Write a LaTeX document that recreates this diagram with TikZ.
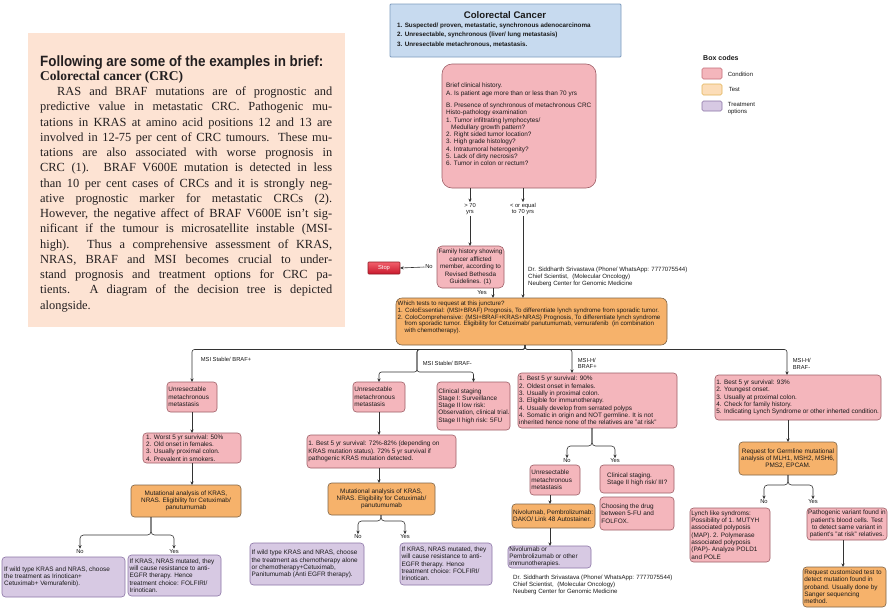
\documentclass[tikz,border=0pt]{standalone}
\usepackage{fontspec}
\setmainfont{Liberation Sans}
\newfontfamily\bodyserif{Liberation Serif}
\usetikzlibrary{arrows.meta,calc}
\definecolor{condF}{HTML}{F4B6BC}
\definecolor{condD}{HTML}{9E5F67}
\definecolor{testF}{HTML}{F6B26B}
\definecolor{testD}{HTML}{7F6548}
\definecolor{treatF}{HTML}{D7C9E3}
\definecolor{treatD}{HTML}{8C75A6}
\definecolor{legTF}{HTML}{FCDDB8}
\definecolor{legTD}{HTML}{E2B458}
\definecolor{legCD}{HTML}{C46D78}
\definecolor{titleF}{HTML}{C7DAEF}
\definecolor{titleD}{HTML}{7E9CBE}
\definecolor{panelF}{HTML}{FDE3D3}
\definecolor{lnC}{HTML}{333333}
\definecolor{txtC}{HTML}{1A1A1A}
\definecolor{bodyC}{HTML}{231F20}
\definecolor{stopT}{HTML}{F2606C}
\definecolor{stopB}{HTML}{C8182C}
\definecolor{stopD}{HTML}{8E1A24}
\newcommand\pbox[6]{%
  \pgfmathsetmacro\mybw{#5-#3}%
  \pgfmathsetmacro\mybh{#6-#4}%
  \pgfmathsetmacro\mycx{(#3+#5)/2}%
  \pgfmathsetmacro\mycy{(#4+#6)/2}%
  \node[#1, minimum width=\mybw pt, minimum height=\mybh pt] (#2) at (\mycx,\mycy) {};%
}
\newcommand\bline[5]{\node[bodyline] (#1) at (#2,#3) {\makebox[#4][s]{#5}};}
\tikzset{
  box/.style={inner sep=0pt, outer sep=0pt, line width=0.6pt, rounded corners=3.5pt},
  condbox/.style={box, draw=condD, fill=condF},
  testbox/.style={box, draw=testD, fill=testF},
  treatbox/.style={box, draw=treatD, fill=treatF},
  titlebox/.style={box, rounded corners=1pt, line width=0.8pt, draw=titleD, fill=titleF},
  panelbox/.style={inner sep=0pt, outer sep=0pt, fill=panelF, draw=none},
  stopbox/.style={box, rounded corners=0.8pt, draw=stopD, top color=stopT, bottom color=stopB},
  legtest/.style={box, rounded corners=1.5pt, draw=legTD, fill=legTF},
  legcond/.style={box, rounded corners=1.5pt, draw=legCD, fill=condF},
  legtreat/.style={box, rounded corners=1.5pt, draw=treatD, fill=treatF},
  bt/.style={inner sep=0pt, align=left, text=txtC, font={\fontsize{6.4}{7.3}\selectfont}},
  btc/.style={bt, align=center},
  lbl/.style={inner sep=0.6pt, text=txtC, align=center, font={\fontsize{5.8}{6.7}\selectfont}},
  arr/.style={-{Stealth[length=3.6pt,width=3.2pt]}, line width=0.6pt, draw=lnC, rounded corners=3.5pt},
  bodyline/.style={anchor=base west, inner sep=0pt, text=bodyC, font={\bodyserif\fontsize{12.4}{14}\selectfont}},
}
\begin{document}
\begin{tikzpicture}[x=1pt,y=-1pt]
\useasboundingbox (0,0) rectangle (888,611);
\fill[white] (0,0) rectangle (888,611);

% ---------- left text panel ----------
\pbox{panelbox}{panel}{28}{33}{345}{327}
\node[anchor=base west, inner sep=0pt, text=bodyC] (head) at (40,66)
  {\resizebox{283pt}{10.8pt}{\bfseries Following are some of the examples in brief:}};
\node[anchor=base west, inner sep=0pt, text=bodyC] (sub) at (40,80.7)
  {\resizebox{143pt}{!}{\bodyserif\bfseries Colorectal cancer (CRC)}};
\bline{p1}{57}{95.7}{275pt}{RAS and BRAF mutations are of prognostic and}
\bline{p2}{40}{110.9}{292pt}{predictive value in metastatic CRC. Pathogenic mu-}
\bline{p3}{40}{126.2}{292pt}{tations in KRAS at amino acid positions 12 and 13 are}
\bline{p4}{40}{141.4}{292pt}{involved in 12-75 per cent of CRC tumours. These mu-}
\bline{p5}{40}{156.7}{292pt}{tations are also associated with worse prognosis in}
\bline{p6}{40}{171.9}{292pt}{CRC (1). BRAF V600E mutation is detected in less}
\bline{p7}{40}{187.1}{292pt}{than 10 per cent cases of CRCs and it is strongly neg-}
\bline{p8}{40}{202.4}{292pt}{ative prognostic marker for metastatic CRCs (2).}
\bline{p9}{40}{217.6}{292pt}{However, the negative affect of BRAF V600E isn’t sig-}
\bline{p10}{40}{232.9}{292pt}{nificant if the tumour is microsatellite instable (MSI-}
\bline{p11}{40}{248.1}{292pt}{high). Thus a comprehensive assessment of KRAS,}
\bline{p12}{40}{263.3}{292pt}{NRAS, BRAF and MSI becomes crucial to under-}
\bline{p13}{40}{278.6}{292pt}{stand prognosis and treatment options for CRC pa-}
\bline{p14}{40}{293.8}{292pt}{tients. A diagram of the decision tree is depicted}
\node[bodyline] (p15) at (40,309.1) {alongside.};

% ---------- title ----------
\pbox{titlebox}{title}{390}{4}{621}{57}
\node[inner sep=0pt, text=txtC, font={\fontsize{9.6}{10}\selectfont\bfseries}] (titlet) at (505,15.5) {Colorectal Cancer};
\node[anchor=north west, align=left, inner sep=0pt, text=txtC, font={\fontsize{6.3}{9.6}\selectfont\bfseries}] (titlel) at (397,22.5)
 {1. Suspected/ proven, metastatic, synchronous adenocarcinoma\\2. Unresectable, synchronous (liver/ lung metastasis)\\3. Unresectable metachronous, metastasis.};

% ---------- legend ----------
\node[anchor=west, inner sep=0pt, text=txtC, font={\fontsize{7}{8}\selectfont\bfseries}] (legt) at (703,58) {Box codes};
\pbox{legcond}{lg1}{702}{68}{722}{79}
\pbox{legtest}{lg2}{702}{84}{722}{95}
\pbox{legtreat}{lg3}{702}{101}{722}{111}
\node[lbl, anchor=west, font={\fontsize{6}{7}\selectfont}] (lg1t) at (727,74) {Condition};
\node[lbl, anchor=west, font={\fontsize{6}{7}\selectfont}] (lg2t) at (728,89.5) {Test};
\node[lbl, anchor=west, align=left, font={\fontsize{6}{7}\selectfont}] (lg3t) at (727,108.5) {Treatment\\options};

% ---------- clinical history ----------
\pbox{condbox, rounded corners=10pt}{clin}{442}{64}{596}{188}
\node[bt, anchor=north west] (clint) at (446,83)
 {Brief clinical history.\\A. Is patient age more than or less than 70 yrs\\[5pt]B. Presence of synchronous of metachronous CRC\\Histo-pathology examination\\1. Tumor infiltrating lymphocytes/\\\hspace*{5pt}Medullary growth pattern?\\2. Right sided tumor location?\\3. High grade histology?\\4. Intratumoral heterogenity?\\5. Lack of dirty necrosis?\\6. Tumor in colon or rectum?};

\node[lbl] (gt) at (470,209) {> 70\\yrs};
\node[lbl] (le) at (523,209) {< or equal\\to 70 yrs};
\pbox{condbox, rounded corners=5pt}{fam}{437}{246}{504}{288}
\node[btc, font={\fontsize{6.3}{7.6}\selectfont}] (famt) at (fam.center) {Family history showing\\cancer afflicted\\member, according to\\Revised Bethesda\\Guidelines. (1)};
\pbox{stopbox}{stop}{368}{262}{400}{274}
\node[inner sep=0pt, text=white, font={\fontsize{5.8}{6}\selectfont}] (stopt) at (stop.center) {Stop};
\node[lbl] (no0) at (429,267) {No};
\node[lbl] (yes0) at (482,293) {Yes};
\node[anchor=north west, align=left, inner sep=0pt, text=txtC, font={\fontsize{6.1}{7.4}\selectfont}] (doc1) at (528,266.5)
 {Dr. Siddharth Srivastava (Phone/ WhatsApp: 7777075544)\\Chief Scientist,\ \ (Molecular Oncology)\\Neuberg Center for Genomic Medicine};

% ---------- tests ----------
\pbox{testbox, rounded corners=6pt}{tests}{396}{298}{667}{345}
\node[bt, anchor=north west, font={\fontsize{6.2}{6.9}\selectfont}] (testst) at (397.5,300.5)
 {Which tests to request at this juncture?\\1. ColoEssential: (MSI+BRAF) Prognosis, To differentiate lynch syndrome from sporadic tumor.\\2. ColoComprehensive: (MSI+BRAF+KRAS+NRAS) Prognosis, To differentiate lynch syndrome\\\hspace*{7pt}from sporadic tumor. Eligibility for Cetuximab/ panutumumab, vemurafenib\ \ (in combination\\\hspace*{7pt}with chemotherapy).};

\coordinate (yx) at (493,0);
\draw[arr] (clin.south -| gt) -- (gt.north);
\draw[arr] (gt.south) -- (fam.north -| gt);
\draw[arr] (clin.south -| le) -- (le.north);
\draw[arr] (le.south) -- (tests.north -| le);
\draw[arr] (no0.west) -- (stop.east);
\draw[arr] (fam.south -| yx) -- (tests.north -| yx);

% ---------- branch 1 ----------
\pbox{condbox}{L1}{167}{382}{217}{412}
\node[bt, anchor=west] (L1t) at ([xshift=1.2pt]L1.west) {Unresectable\\metachronous\\metastasis};
\pbox{condbox}{L2}{143}{433}{241}{463}
\node[bt, anchor=west] (L2t) at ([xshift=3pt]L2.west) {1. Worst 5 yr survival: 50\%\\2. Old onset in females.\\3. Usually proximal colon.\\4. Prevalent in smokers.};
\pbox{testbox}{L3}{131}{485}{241}{517}
\node[btc] (L3t) at (L3.center) {Mutational analysis of KRAS,\\NRAS. Eligibility for Cetuximab/\\panutumumab};
\node[lbl] (no1) at (80,551.5) {No};
\node[lbl] (yes1) at (174,551.5) {Yes};
\pbox{treatbox}{L4}{2}{557}{125}{597}
\node[bt, anchor=west] (L4t) at ([xshift=2pt]L4.west) {If wild type KRAS and NRAS, choose\\the treatment as Irinotican+\\Cetuximab+ Vemurafenib).};
\pbox{treatbox}{L5}{128}{555}{221}{596}
\node[bt, anchor=west] (L5t) at ([xshift=1.5pt]L5.west) {If KRAS, NRAS mutated, they\\will cause resistance to anti-\\EGFR therapy. Hence\\treatment choice: FOLFIRI/\\Irinotican.};

% ---------- branch 2 ----------
\pbox{condbox}{M1}{353}{382}{405}{412}
\node[bt, anchor=west] (M1t) at ([xshift=1.2pt]M1.west) {Unresectable\\metachronous\\metastasis};
\pbox{condbox}{M2}{437}{382}{510}{430}
\node[bt, anchor=west] (M2t) at ([xshift=1.2pt]M2.west) {Clinical staging\\Stage I: Surveillance\\Stage II low risk:\\Observation, clinical trial.\\Stage II high risk: 5FU};
\pbox{condbox}{M3}{307}{435}{456}{468}
\node[bt, anchor=west] (M3t) at ([xshift=1.2pt]M3.west) {1. Best 5 yr survival: 72\%-82\% (depending on\\KRAS mutation status). 72\% 5 yr survival if\\pathogenic KRAS mutation detected.};
\pbox{testbox}{M4}{328}{483}{435}{515}
\node[btc] (M4t) at (M4.center) {Mutational analysis of KRAS,\\NRAS. Eligibility for Cetuximab/\\panutumumab};
\node[lbl] (no2) at (358,537) {No};
\node[lbl] (yes2) at (405,537) {Yes};
\pbox{treatbox}{M5}{250}{543}{364}{585}
\node[bt, anchor=west] (M5t) at ([xshift=1.5pt]M5.west) {If wild type KRAS and NRAS, choose\\the treatment as chemotherapy alone\\or chemotherapy+Cetuximab,\\Panitumumab (Anti EGFR therapy).};
\pbox{treatbox}{M6}{400}{543}{492}{585}
\node[bt, anchor=west] (M6t) at ([xshift=1.5pt]M6.west) {If KRAS, NRAS mutated, they\\will cause resistance to anti-\\EGFR therapy. Hence\\treatment choice: FOLFIRI/\\Irinotican.};

% ---------- branch 3 ----------
\pbox{condbox}{C1}{518}{373}{677}{428}
\node[bt, anchor=west] (C1t) at ([xshift=1pt]C1.west) {1. Best 5 yr survival: 90\%\\2. Oldest onset in females.\\3. Usually in proximal colon.\\3. Eligible for immunotherapy.\\4. Usually develop from serrated polyps\\4. Somatic in origin and NOT germline. It is not\\inherited hence none of the relatives are "at risk"};
\node[lbl] (no3) at (567,461) {No};
\node[lbl] (yes3) at (615,461) {Yes};
\pbox{condbox}{C2}{530}{465}{580}{495}
\node[bt, anchor=west] (C2t) at ([xshift=1.2pt]C2.west) {Unresectable\\metachronous\\metastasis};
\pbox{condbox}{C3}{600}{465}{674}{493}
\node[bt, anchor=west] (C3t) at ([xshift=7pt]C3.west) {Clinical staging.\\Stage II high risk/ III?};
\pbox{condbox}{C4}{600}{497}{674}{530}
\node[bt, anchor=west] (C4t) at ([xshift=1.2pt]C4.west) {Choosing the drug\\between 5-FU and\\FOLFOX.};
\pbox{testbox}{C5}{512}{504}{595}{528}
\node[bt, anchor=west] (C5t) at ([xshift=1pt]C5.west) {Nivolumab, Pembrolizumab:\\DAKO/ Link 48 Autostainer.};
\pbox{treatbox}{C6}{508}{546}{591}{568}
\node[bt, anchor=west] (C6t) at ([xshift=1.2pt]C6.west) {Nivolumab or\\Pembrolizumab or other\\immunotherapies.};
\node[anchor=north west, align=left, inner sep=0pt, text=txtC, font={\fontsize{6.1}{7.3}\selectfont}] (doc2) at (513,574.5)
 {Dr. Siddharth Srivastava (Phone/ WhatsApp: 7777075544)\\Chief Scientist,\ \ (Molecular Oncology)\\Neuberg Center for Genomic Medicine};

% ---------- branch 4 ----------
\pbox{condbox}{R1}{715}{375}{881}{420}
\node[bt, anchor=west] (R1t) at ([xshift=1.2pt]R1.west) {1. Best 5 yr survival: 93\%\\2. Youngest onset.\\3. Usually at proximal colon.\\4. Check for family history.\\5. Indicating Lynch Syndrome or other inherted condition.};
\pbox{testbox}{R2}{739}{442}{837}{475}
\node[btc] (R2t) at (R2.center) {Request for Germline mutational\\analysis of MLH1, MSH2, MSH6,\\PMS2, EPCAM.};
\node[lbl] (no4) at (764,502) {No};
\node[lbl] (yes4) at (813,502) {Yes};
\pbox{condbox}{R3}{690}{508}{770}{562}
\node[bt, anchor=west] (R3t) at ([xshift=1.2pt]R3.west) {Lynch like syndroms:\\Possibility of 1. MUTYH\\associated polyposis\\(MAP). 2. Polymerase\\associated polyposis\\(PAP)- Analyze POLD1\\and POLE};
\pbox{condbox}{R4}{807}{508}{887}{540}
\node[btc] (R4t) at (R4.center) {Pathogenic variant found in\\patient's blood cells. Test\\to detect same variant in\\patient's "at risk" relatives.};
\pbox{testbox}{R5}{803}{567}{886}{607}
\node[bt, anchor=west] (R5t) at ([xshift=1.2pt]R5.west) {Request customized test to\\detect mutation found in\\proband. Usually done by\\Sanger sequencing\\method.};

% ---------- branch labels ----------
\node[lbl, anchor=west] (b1l) at (200,359) {MSI Stable/ BRAF+};
\node[lbl, anchor=west] (b2l) at (422,363) {MSI Stable/ BRAF-};
\node[lbl, anchor=west, align=left] (b3l) at (577,363.5) {MSI-H/\\BRAF+};
\node[lbl, anchor=west, align=left] (b4l) at (792,364) {MSI-H/\\BRAF-};

% ---------- connectors ----------
\coordinate (hub) at (525,349.5);
\coordinate (J2) at (417,372);
\coordinate (b3) at (572,0);
\coordinate (b4) at (787,0);
\draw[arr, rounded corners=2.5pt] (tests.south -| hub) -- (hub) -| (L1.north);
\draw[arr, rounded corners=2.5pt] (tests.south -| hub) -- (hub) -| (J2) -| (M1.north);
\draw[arr, rounded corners=2.5pt] (tests.south -| hub) -- (hub) -| (J2) -| (M2.north);
\draw[arr, rounded corners=2.5pt] (tests.south -| hub) -- (hub) -| (C1.north -| b3);
\draw[arr, rounded corners=2.5pt] (tests.south -| hub) -- (hub) -| (R1.north -| b4);

\draw[arr] (L1.south) -- (L2.north -| L1.south);
\draw[arr] (L2.south -| L1.south) -- (L3.north -| L1.south);
\coordinate (J1) at (151,535);
\draw[arr] (L3.south -| J1) -- (J1) -| (no1.north);
\draw[arr] (L3.south -| J1) -- (J1) -| (yes1.north);

\draw[arr] (M1.south) -- (M3.north -| M1.south);
\draw[arr] (M3.south -| M1.south) -- (M4.north -| M1.south);
\coordinate (J3) at (381,521);
\draw[arr] (M4.south -| J3) -- (J3) -| (no2.north);
\draw[arr] (M4.south -| J3) -- (J3) -| (yes2.north);

\coordinate (J4) at (592,446);
\draw[arr] (C1.south -| J4) -- (J4) -| (no3.north);
\draw[arr] (C1.south -| J4) -- (J4) -| (yes3.north);
\coordinate (cx5) at (550,0);
\draw[arr] (C2.south -| cx5) -- (C5.north -| cx5);
\draw[arr] (C5.south -| cx5) -- (C6.north -| cx5);

\coordinate (rx) at (788,0);
\draw[arr] (R1.south -| rx) -- (R2.north -| rx);
\coordinate (J5) at (788,485);
\draw[arr] (R2.south -| J5) -- (J5) -| (no4.north);
\draw[arr] (R2.south -| J5) -- (J5) -| (yes4.north);
\coordinate (rx2) at (843,0);
\draw[arr] (R4.south -| rx2) -- (R5.north -| rx2);
\end{tikzpicture}
\end{document}
